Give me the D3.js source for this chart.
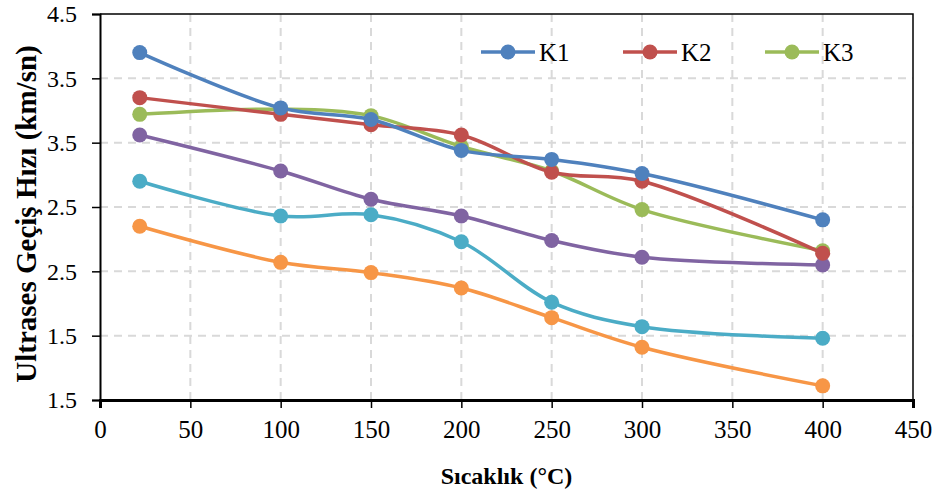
<!DOCTYPE html>
<html>
<head>
<meta charset="utf-8">
<script src="https://cdn.jsdelivr.net/npm/d3@7"></script>
<style>
  body { margin: 0; background: #fff; }
  svg { display: block; font-family: "Liberation Serif", "Times New Roman", serif; }
</style>
</head>
<body>
<div id="chart"></div>
<script>
// temperatures (°C)
const temps = [22, 100, 150, 200, 250, 300, 400];

// series values (km/sn)
const k1 = [4.20, 3.77, 3.68, 3.44, 3.37, 3.26, 2.90];
const k2 = [3.85, 3.72, 3.64, 3.56, 3.27, 3.20, 2.64];
const k3 = [3.72, 3.76, 3.71, 3.47, 3.28, 2.98, 2.66];
const s4 = [3.56, 3.28, 3.06, 2.93, 2.74, 2.61, 2.55];
const s5 = [3.20, 2.93, 2.94, 2.73, 2.26, 2.07, 1.98];
const s6 = [2.85, 2.57, 2.49, 2.37, 2.14, 1.91, 1.61];

const seriesNames = ["K1", "K2", "K3", "", "", ""];
const seriesColors = ["#4F81BD", "#C0504D", "#9BBB59", "#8064A2", "#4BACC6", "#F79646"];
const seriesValues = [k1, k2, k3, s4, s5, s6];

// axis ticks
const xTicks = [0, 50, 100, 150, 200, 250, 300, 350, 400, 450];
const yTicks = [1.5, 2, 2.5, 3, 3.5, 4, 4.5];
const yTickLabels = ["1.5", "1.5", "2.5", "2.5", "3.5", "3.5", "4.5"];

const width = 938, height = 495;
const margin = {top: 14, right: 25, bottom: 95, left: 100};

const svg = d3.select("#chart").append("svg")
    .attr("width", width)
    .attr("height", height);

const x = d3.scaleLinear().domain([0, 450]).range([margin.left, width - margin.right]);
const y = d3.scaleLinear().domain([1.5, 4.5]).range([height - margin.bottom, margin.top]);

// grid
const grid = svg.append("g")
    .attr("stroke", "#D9D9D9")
    .attr("stroke-width", 2)
    .attr("stroke-dasharray", "8,6");

grid.selectAll("line.h")
    .data(yTicks.slice(1, -1))
    .join("line")
        .attr("class", "h")
        .attr("x1", x(0)).attr("x2", x(450))
        .attr("y1", d => y(d)).attr("y2", d => y(d));

grid.selectAll("line.v")
    .data(xTicks.slice(1, -1))
    .join("line")
        .attr("class", "v")
        .attr("x1", d => x(d)).attr("x2", d => x(d))
        .attr("y1", y(4.5)).attr("y2", y(1.5));

// frame (top + right)
svg.append("path")
    .attr("fill", "none")
    .attr("stroke", "#000")
    .attr("stroke-width", 1.5)
    .attr("d", `M${x(0)},${y(4.5)}H${x(450)}V${y(1.5)}`);

// axes
const yAxis = svg.append("g")
    .attr("transform", `translate(${x(0)},0)`)
    .call(d3.axisLeft(y).tickValues(yTicks).tickSize(8).tickPadding(15)
        .tickFormat((d, i) => yTickLabels[i]));
yAxis.select(".domain").attr("stroke-width", 2);
yAxis.selectAll(".tick line").attr("stroke-width", 1.5);
yAxis.selectAll("text")
    .attr("font-size", 24)
    .attr("fill", "#000")
    .attr("font-family", "Liberation Serif, serif");

const xAxis = svg.append("g")
    .attr("transform", `translate(0,${y(1.5)})`)
    .call(d3.axisBottom(x).tickValues(xTicks).tickSize(8).tickPadding(12));
xAxis.select(".domain").attr("stroke-width", 3);
xAxis.selectAll(".tick line").attr("stroke-width", 1.5);
xAxis.selectAll("text")
    .attr("font-size", 25)
    .attr("fill", "#000")
    .attr("font-family", "Liberation Serif, serif");

// axis titles
svg.append("text")
    .attr("x", (x(0) + x(450)) / 2)
    .attr("y", 484)
    .attr("text-anchor", "middle")
    .attr("font-size", 24)
    .attr("font-weight", "bold")
    .text("Sıcaklık (°C)");

svg.append("text")
    .attr("transform", "translate(36,214) rotate(-90)")
    .attr("text-anchor", "middle")
    .attr("font-size", 29)
    .attr("font-weight", "bold")
    .text("Ultrases Geçiş Hızı (km/sn)");

// lines
const line = d3.line()
    .x((d, i) => x(temps[i]))
    .y(d => y(d))
    .curve(d3.curveCatmullRom.alpha(0.5));

// draw bottom series first so K1..K3 sit on top
const order = [5, 4, 3, 2, 1, 0];
const plot = svg.append("g");
order.forEach(k => {
    const g = plot.append("g");
    g.append("path")
        .datum(seriesValues[k])
        .attr("fill", "none")
        .attr("stroke", seriesColors[k])
        .attr("stroke-width", 3.5)
        .attr("d", line);
    g.selectAll("circle")
        .data(seriesValues[k])
        .join("circle")
            .attr("cx", (d, i) => x(temps[i]))
            .attr("cy", d => y(d))
            .attr("r", 7.5)
            .attr("fill", seriesColors[k]);
});

// legend
const legendX = [481, 623, 765];
const legend = svg.append("g");
[0, 1, 2].forEach(k => {
    const lg = legend.append("g").attr("transform", `translate(${legendX[k]},52)`);
    lg.append("line")
        .attr("x1", 0).attr("x2", 54)
        .attr("stroke", seriesColors[k])
        .attr("stroke-width", 3.5);
    lg.append("circle")
        .attr("cx", 27).attr("r", 7.5)
        .attr("fill", seriesColors[k]);
    lg.append("text")
        .attr("x", 58).attr("dy", "0.35em")
        .attr("font-size", 25)
        .text(seriesNames[k]);
});
</script>
</body>
</html>
